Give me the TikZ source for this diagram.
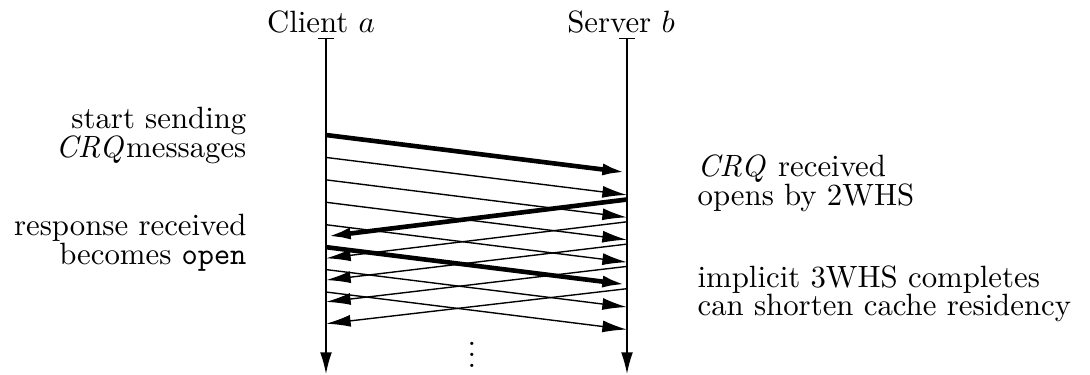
\documentclass[tikz,border=0pt]{standalone}
\usetikzlibrary{arrows.meta}
\begin{document}
\begin{tikzpicture}[x=0.3247pt,y=-0.3247pt,
  lifeline/.style={line width=0.45pt,{Bar[width=4.9pt]}-{Latex[length=7pt,width=3.8pt]}},
  msg/.style={line width=0.45pt,-{Latex[length=8pt,width=3.9pt]}},
  bigmsg/.style={line width=1.5pt,-{Latex[length=8pt,width=3.9pt]}},
  lbl/.style={inner sep=0pt,font=\fontsize{10}{12}\selectfont},
  lblR/.style={lbl,anchor=base east},
  lblL/.style={lbl,anchor=base west}]
\useasboundingbox (0,0) rectangle (1090,375);
% lifelines
\coordinate (ctop) at (326,38);
\coordinate (cbot) at (326,374);
\coordinate (stop) at (627,38);
\coordinate (sbot) at (627,374);
\draw[lifeline] (ctop) -- (cbot);
\draw[lifeline] (stop) -- (sbot);
\node[lbl,anchor=base] (client) at (321,32) {Client $a$};
\node[lbl,anchor=base] (server) at (621,32) {Server $b$};
% client -> server messages
\foreach \k in {0,...,7}{
  \coordinate (r\k s) at (326,{135+22.43*\k});
  \coordinate (r\k e) at (627,{172.5+22.43*\k});
}
\foreach \k in {1,2,3,4,6,7}{ \draw[msg] (r\k s) -- (r\k e); }
\draw[bigmsg] (r0s) -- (r0e);
\draw[bigmsg] (r5s) -- (r5e);
% server -> client messages
\foreach \j in {0,...,4}{
  \coordinate (l\j s) at (627,{199.5+22.3*\j});
  \coordinate (l\j e) at (326,{236.5+21.8*\j});
}
\foreach \j in {1,...,4}{ \draw[msg] (l\j s) -- (l\j e); }
\draw[bigmsg] (l0s) -- (l0e);
% continuation dots
\node[lbl] (dots) at (472,355) {\vbox{\baselineskip=3.5pt\lineskiplimit=0pt\hbox{.}\hbox{.}\hbox{.}}};
% left labels
\node[lblR] (t1) at (247,128) {start sending};
\node[lblR] (t2) at (247,157) {$\mathit{CRQ}$messages};
\node[lblR] (t3) at (247,235) {response received};
\node[lblR] (t4) at (247,264) {becomes \texttt{open}};
% right labels
\node[lblL] (t5) at (697,176) {$\mathit{CRQ}$ received};
\node[lblL] (t6) at (697,205) {opens by 2WHS};
\node[lblL] (t7) at (697,287) {implicit 3WHS completes};
\node[lblL] (t8) at (697,315) {can shorten cache residency};
\end{tikzpicture}
\end{document}
